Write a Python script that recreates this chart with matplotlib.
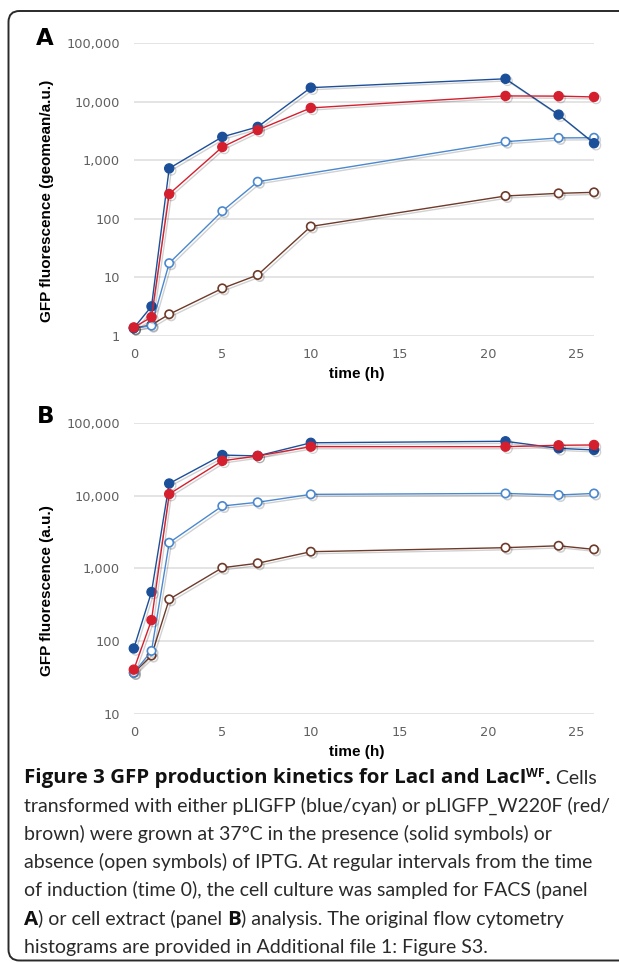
import matplotlib
matplotlib.use('Agg')
import matplotlib.pyplot as plt
import matplotlib.patheffects as pe
from matplotlib.patches import FancyBboxPatch
from matplotlib.transforms import IdentityTransform
from matplotlib.ticker import FuncFormatter, FixedLocator, NullLocator

W, H, DPI = 619, 963, 100

# ---------------- data ----------------
time_h = [0, 1, 2, 5, 7, 10, 21, 24, 26]
time_h_no10 = [0, 1, 2, 5, 7, 21, 24, 26]
x_ticks = [0, 5, 10, 15, 20, 25]

# Panel A: FACS geomean
a_pligfp_iptg = [1.37, 3.2, 725, 2500, 3700, 17300, 24500, 6000, 1950]
a_w220f_iptg = [1.4, 2.1, 265, 1680, 3270, 7800, 12500, 12400, 12000]
a_pligfp_noiptg = [1.35, 1.5, 17.5, 135, 430, 2070, 2400, 2420]       # no 10 h point
a_w220f_noiptg = [1.35, 1.55, 2.35, 6.5, 11, 74, 245, 272, 283]
a_yticks = [1, 10, 100, 1000, 10000, 100000]

# Panel B: cell extract
b_pligfp_iptg = [80, 476, 14650, 36000, 35000, 53000, 55600, 44500, 42300]
b_w220f_iptg = [41, 196, 10500, 30000, 35000, 46900, 46900, 49000, 49500]
b_pligfp_noiptg = [37, 74, 2260, 7200, 8100, 10400, 10700, 10200, 10700]
b_w220f_noiptg = [37, 64, 378, 1025, 1180, 1700, 1930, 2050, 1830]
b_yticks = [10, 100, 1000, 10000, 100000]

C_BLUE = '#1c4f99'
C_RED = '#d41f2f'
C_CYAN = '#4a88cf'
C_BROWN = '#6e3a2a'

fig = plt.figure(figsize=(W / DPI, H / DPI), dpi=DPI)
fig.patch.set_facecolor('white')

# border
border = FancyBboxPatch((8.5, H - 960.5), 640, 949.5,
                        boxstyle='round,pad=0,rounding_size=11',
                        transform=IdentityTransform(), facecolor='none',
                        edgecolor='#2a2a2a', linewidth=1.4)
fig.add_artist(border)


def px_axes(x0, x1, ytop, ybot):
    return fig.add_axes([x0 / W, 1 - ybot / H, (x1 - x0) / W, (ybot - ytop) / H])


shadow = [pe.SimpleLineShadow(offset=(1.5, -1.5), shadow_color='k', alpha=0.18),
          pe.Normal()]


def style(ax, ylim, yticks):
    ax.set_yscale('log')
    ax.set_xlim(0, 26)
    ax.set_ylim(*ylim)
    ax.yaxis.set_major_locator(FixedLocator(yticks))
    ax.yaxis.set_minor_locator(NullLocator())
    ax.yaxis.set_major_formatter(FuncFormatter(lambda v, p: f'{v:,.0f}'))
    ax.set_xticks(x_ticks)
    for s in ax.spines.values():
        s.set_visible(False)
    ax.grid(axis='y', color='#e2e2e2', linewidth=1.3)
    ax.set_axisbelow(True)
    ax.tick_params(length=0, labelsize=9.3, labelcolor='#606060')
    ax.tick_params(axis='y', pad=10)
    ax.tick_params(axis='x', pad=8.5)
    for lab in ax.get_xticklabels() + ax.get_yticklabels():
        lab.set_fontfamily('DejaVu Sans')


def series(ax, x, y, color, filled):
    ax.plot(x, y, color=color, lw=1.0, marker='o',
            markersize=6.6 if filled else 6.0,
            markerfacecolor=color if filled else 'white',
            markeredgecolor=color, markeredgewidth=0.9 if filled else 1.2,
            clip_on=False, path_effects=shadow)


axA = px_axes(133.8, 594, 43, 336)
style(axA, (1, 100000), a_yticks)
series(axA, time_h, a_w220f_noiptg, C_BROWN, False)
series(axA, time_h_no10, a_pligfp_noiptg, C_CYAN, False)
series(axA, time_h, a_pligfp_iptg, C_BLUE, True)
series(axA, time_h, a_w220f_iptg, C_RED, True)

axB = px_axes(133.8, 594, 422.7, 714.3)
style(axB, (10, 100000), b_yticks)
series(axB, time_h, b_w220f_noiptg, C_BROWN, False)
series(axB, time_h, b_pligfp_noiptg, C_CYAN, False)
series(axB, time_h, b_pligfp_iptg, C_BLUE, True)
series(axB, time_h, b_w220f_iptg, C_RED, True)


def ftext(x, y, s, **kw):
    return fig.text(x / W, 1 - y / H, s, **kw)


LBL = dict(family='Liberation Sans', weight='bold', color='black')
ftext(47, 201, 'GFP fluorescence (geomean/a.u.)', rotation=90, ha='center', va='center', fontsize=11, **LBL)
ftext(47, 591, 'GFP fluorescence (a.u.)', rotation=90, ha='center', va='center', fontsize=11, **LBL)
ftext(357, 374, 'time (h)', ha='center', va='center', fontsize=11, **LBL)
ftext(357, 752, 'time (h)', ha='center', va='center', fontsize=11, **LBL)
PL = dict(family='DejaVu Sans', weight='bold', color='black')
ftext(36, 45, 'A', ha='left', va='baseline', fontsize=16.5, **PL)
ftext(37, 423, 'B', ha='left', va='baseline', fontsize=16.5, **PL)

# ---------------- caption ----------------
renderer = fig.canvas.get_renderer()


def tw(s, **kw):
    t1 = fig.text(0, 0, '|' + s + '|', **kw)
    t2 = fig.text(0, 0, '||', **kw)
    w = t1.get_window_extent(renderer).width - t2.get_window_extent(renderer).width
    t1.remove(); t2.remove()
    return w


CAP_FAM = 'Lato'
ref_line = 'transformed with either pLIGFP (blue/cyan) or pLIGFP_W220F (red/'
cap_fs = 12 * 585.0 / tw(ref_line, family=CAP_FAM, fontsize=12)

BOLD_FAM = 'Open Sans'
title_txt = 'Figure 3 GFP production kinetics for LacI and LacI'
bold_fs = 12 * 501.0 / tw(title_txt, family=BOLD_FAM, fontsize=12, weight='bold')

REG = dict(family=CAP_FAM, fontsize=cap_fs, color='#2a2a2a')
BLD = dict(family=BOLD_FAM, fontsize=bold_fs, color='#111111', weight='bold')
SUP = dict(family=BOLD_FAM, fontsize=bold_fs * 0.6, color='#111111', weight='bold')

cap_lines = [
    [(title_txt, BLD, 0), ('WF', SUP, 7), ('.', BLD, 0), (' Cells', REG, 0)],
    [(ref_line, REG, 0)],
    [('brown) were grown at 37°C in the presence (solid symbols) or', REG, 0)],
    [('absence (open symbols) of IPTG. At regular intervals from the time', REG, 0)],
    [('of induction (time 0), the cell culture was sampled for FACS (panel', REG, 0)],
    [('A', BLD, 0), (') or cell extract (panel ', REG, 0), ('B', BLD, 0), (') analysis. The original flow cytometry', REG, 0)],
    [('histograms are provided in Additional file 1: Figure S3.', REG, 0)],
]

y0, dy, x0 = 783.5, 28.2, 24
for i, parts in enumerate(cap_lines):
    x = x0
    yb = y0 + i * dy
    for s, kw, rise in parts:
        ftext(x, yb - rise, s, ha='left', va='baseline', **kw)
        x += tw(s, **kw)

fig.savefig('out.png', dpi=DPI, facecolor='white')
